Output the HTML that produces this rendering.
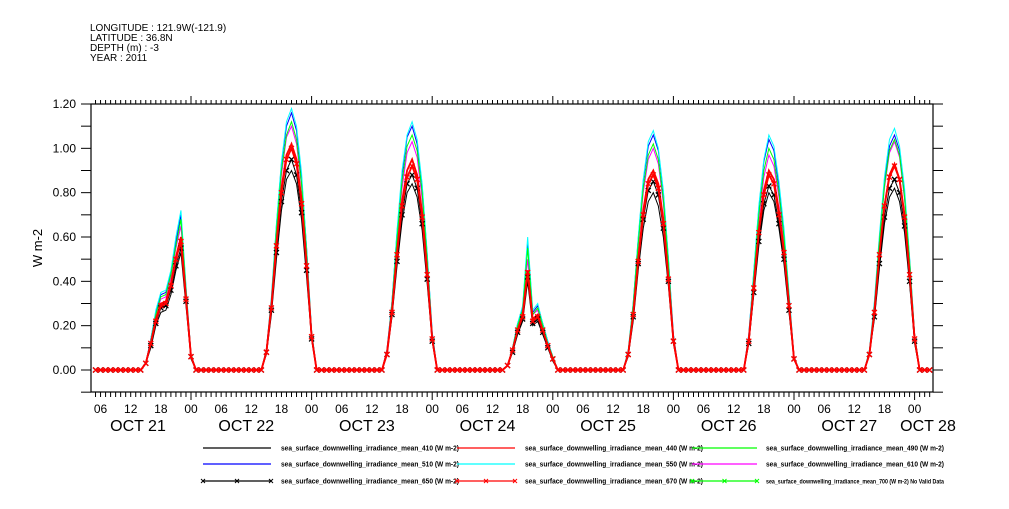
<!DOCTYPE html>
<html><head><meta charset="utf-8"><style>
body{margin:0;background:#fff;width:1009px;height:504px;overflow:hidden}
svg{font-family:"Liberation Sans",sans-serif}
</style></head><body>
<svg id="chart" width="1009" height="504" viewBox="0 0 1009 504" xmlns="http://www.w3.org/2000/svg">
<g font-size="10" fill="#000">
<text x="90" y="31">LONGITUDE : 121.9W(-121.9)</text>
<text x="90" y="41">LATITUDE : 36.8N</text>
<text x="90" y="51">DEPTH (m) : -3</text>
<text x="90" y="61">YEAR : 2011</text>
</g>
<text x="42" y="248" font-size="13" text-anchor="middle" transform="rotate(-90 42 248)">W m-2</text>
<g id="axes"></g>
<g id="plot"></g>
<g id="legend"></g>
</svg>
<script>
// hour-of-day values from 14h to 25h for each day Oct 21..27
const days=["OCT 21","OCT 22","OCT 23","OCT 24","OCT 25","OCT 26","OCT 27","OCT 28"];
const hourLabels=["00","06","12","18"];
const yTicks=[0.0,0.2,0.4,0.6,0.8,1.0,1.2];
const s410=[[0,0.03,0.1,0.2,0.26,0.27,0.34,0.45,0.53,0.29,0.05,0],[0,.07,.25,.5,.72,.86,.9,.84,.68,.42,.14,0],[0,.07,.24,.47,.67,.8,.84,.78,.63,.39,.13,0],[0,0.02,0.08,0.16,0.22,0.4,0.2,0.22,0.16,0.1,0.04,0],[0,.06,.22,.45,.64,.76,.8,.74,.6,.38,.12,0],[0,.12,.34,.56,.72,.8,.76,.64,.48,.26,.05,0],[0,.07,.23,.46,.66,.78,.82,.76,.62,.39,.12,0]];
const s440=[[0,0.03,0.12,0.23,0.3,0.31,0.39,0.51,0.6,0.33,0.06,0],[0,.08,.29,.57,.82,.97,1.02,.95,.77,.48,.15,0],[0,.08,.27,.53,.76,.9,.95,.88,.71,.45,.14,0],[0,0.02,0.09,0.18,0.25,0.45,0.23,0.25,0.18,0.11,0.05,0],[0,.07,.25,.5,.72,.86,.9,.84,.68,.42,.14,0],[0,.14,.38,.63,.81,.9,.86,.72,.54,.3,.05,0],[0,.07,.26,.52,.74,.88,.93,.86,.7,.44,.14,0]];
const s490=[[0,0.03,0.13,0.25,0.33,0.34,0.43,0.56,0.68,0.36,0.07,0],[0,.09,.31,.63,.9,1.06,1.12,1.04,.84,.53,.17,0],[0,.08,.3,.59,.85,1.01,1.06,.99,.8,.5,.16,0],[0,0.02,0.1,0.2,0.27,0.55,0.25,0.28,0.2,0.12,0.06,0],[0,.08,.29,.57,.82,.97,1.02,.95,.77,.48,.15,0],[0,.15,.42,.7,.9,1.0,.95,.8,.6,.33,.06,0],[0,.08,.29,.58,.83,.99,1.04,.97,.78,.49,.16,0]];
const s510=[[0,0.03,0.14,0.26,0.34,0.35,0.44,0.58,0.7,0.37,0.07,0],[0,.09,.32,.65,.93,1.1,1.16,1.08,.87,.55,.17,0],[0,.09,.31,.62,.88,1.05,1.1,1.02,.83,.52,.17,0],[0,0.02,0.1,0.21,0.28,0.58,0.26,0.29,0.21,0.13,0.06,0],[0,.08,.3,.59,.85,1.01,1.06,.99,.8,.5,.16,0],[0,.16,.44,.73,.94,1.04,.99,.83,.62,.34,.06,0],[0,.08,.3,.59,.85,1.01,1.06,.99,.8,.5,.16,0]];
const s550=[[0,0.03,0.14,0.27,0.35,0.36,0.45,0.6,0.72,0.38,0.07,0],[0,.09,.33,.66,.94,1.12,1.18,1.1,.89,.55,.18,0],[0,.09,.31,.63,.9,1.06,1.12,1.04,.84,.53,.17,0],[0,0.02,0.1,0.21,0.29,0.6,0.27,0.3,0.21,0.13,0.06,0],[0,.09,.3,.6,.86,1.03,1.08,1.0,.81,.51,.16,0],[0,.16,.45,.74,.95,1.06,1.01,.85,.64,.35,.06,0],[0,.09,.31,.61,.87,1.04,1.09,1.01,.82,.51,.16,0]];
const s610=[[0,0.03,0.13,0.25,0.32,0.33,0.42,0.55,0.65,0.35,0.06,0],[0,.09,.31,.62,.88,1.05,1.1,1.02,.83,.52,.17,0],[0,.08,.29,.58,.82,.98,1.03,.96,.77,.48,.15,0],[0,0.02,0.1,0.19,0.27,0.5,0.25,0.27,0.19,0.12,0.05,0],[0,.08,.28,.56,.8,.95,1.0,.93,.75,.47,.15,0],[0,.15,.41,.68,.87,.97,.92,.78,.58,.32,.06,0],[0,.08,.29,.58,.82,.98,1.03,.96,.77,.48,.15,0]];
const s650=[[0,0.03,0.11,0.21,0.28,0.29,0.36,0.47,0.55,0.31,0.06,0],[0,.08,.27,.53,.76,.9,.95,.88,.71,.45,.14,0],[0,.07,.25,.49,.7,.84,.88,.82,.66,.41,.13,0],[0,0.02,0.08,0.17,0.23,0.42,0.21,0.23,0.17,0.1,0.05,0],[0,.07,.24,.48,.68,.81,.85,.79,.64,.4,.13,0],[0,.12,.35,.58,.75,.83,.79,.66,.5,.27,.05,0],[0,.07,.24,.48,.69,.82,.86,.8,.65,.4,.13,0]];
const s670=[[0,0.03,0.12,0.22,0.29,0.3,0.38,0.5,0.58,0.32,0.06,0],[0,.08,.28,.56,.8,.95,1.0,.93,.75,.47,.15,0],[0,.07,.26,.52,.74,.87,.92,.86,.69,.43,.14,0],[0,0.02,0.09,0.18,0.24,0.44,0.22,0.24,0.18,0.11,0.05,0],[0,.07,.25,.49,.7,.84,.88,.82,.66,.41,.13,0],[0,.13,.37,.62,.79,.88,.84,.7,.53,.29,.05,0],[0,.07,.26,.52,.74,.87,.92,.86,.69,.43,.14,0]];

const NS="http://www.w3.org/2000/svg";
const X0=70.4, PXH=5.025, LEFT=91, RIGHT=933, TOP=104, BOT=392;
const tMin=(LEFT-X0)/PXH, tMax=(RIGHT-X0)/PXH;
const xs=t=>X0+t*PXH;
const ys=v=>370-v*221.67;
function el(tag,attrs,parent){const e=document.createElementNS(NS,tag);for(const k in attrs)e.setAttribute(k,attrs[k]);parent.appendChild(e);return e;}
const axes=document.getElementById('axes'),plot=document.getElementById('plot'),leg=document.getElementById('legend');

let fr=el('rect',{x:LEFT,y:TOP,width:RIGHT-LEFT,height:BOT-TOP,fill:'none',stroke:'#000','stroke-width':1.2},axes);


for(let i=0;i<=13;i++){const v=-0.1+i*0.1;const y=ys(v);if(y<TOP-0.5||y>BOT+0.5)continue;
 el('line',{x1:LEFT-10,x2:LEFT,y1:y,y2:y,stroke:'#000'},axes);
 el('line',{x1:RIGHT,x2:RIGHT+10,y1:y,y2:y,stroke:'#000'},axes);}
yTicks.forEach(v=>{const t=el('text',{x:76,y:ys(v)+4,'font-size':12,'text-anchor':'end'},axes);t.textContent=v.toFixed(2);
 
 });
for(let h=Math.ceil(tMin);h<=tMax;h++){const x=xs(h);const major=h%24===0;
 el('line',{x1:x,x2:x,y1:TOP,y2:TOP-(major?8:4),stroke:'#000'},axes);
 el('line',{x1:x,x2:x,y1:BOT,y2:BOT+(major?8:5),stroke:'#000'},axes);
 if(h%6===0){const t=el('text',{x:x,y:413,'font-size':12,'text-anchor':'middle'},axes);t.textContent=hourLabels[(h%24)/6];
  
  }}
days.forEach((d,i)=>{let x=xs(12+24*i)-5;if(i===0)x=138;if(i===days.length-1)x=928;
 const t=el('text',{x:x,y:431,'font-size':16,'text-anchor':'middle'},axes);t.textContent=d;
 
 });

const series=[
 {d:s410,c:'#000',n:'410',m:false},{d:s510,c:'#0000ff',n:'510',m:false},{d:s550,c:'#00ffff',n:'550',m:false},
 {d:s610,c:'#ff00ff',n:'610',m:false},{d:s490,c:'#00ff00',n:'490',m:false},{d:s440,c:'#ff0000',n:'440',m:false},
 {d:s650,c:'#000',n:'650',m:true},{d:s670,c:'#ff0000',n:'670',m:true}];
series.forEach(s=>{
 const pts=[];
 for(let h=Math.ceil(tMin);h<=Math.floor(tMax);h++){
  let v=0;const day=Math.floor((h-14)/24);const off=h-14-24*day;
  if(day>=0&&day<s.d.length&&off<s.d[day].length)v=s.d[day][off];
  pts.push([xs(h),ys(v)]);}
 const g=el('g',{},plot);
 
 
 el('polyline',{points:pts.map(p=>p.join(',')).join(' '),fill:'none',stroke:s.c,'stroke-width':s.c==='#ff0000'?1.8:1},g);
 if(s.m){let dd='';pts.forEach(p=>{dd+=`M${p[0]-2.5},${p[1]-2.5}l5,5M${p[0]-2.5},${p[1]+2.5}l5,-5`;});
  el('path',{d:dd,stroke:s.c,'stroke-width':1.3,fill:'none'},g);}
});

const legNames=["410","440","490","510","550","610","650","670","700"];
const legColors=['#000','#ff0000','#00ff00','#0000ff','#00ffff','#ff00ff','#000','#ff0000','#00ff00'];
const colLine=[[203,271],[457,515],[692,757]],colText=[281,525,766],rowY=[448,464,481];
legNames.forEach((n,i)=>{const r=Math.floor(i/3),c=i%3;const y=rowY[r];
 const g=el('g',{},leg);
 
 
 el('line',{x1:colLine[c][0],x2:colLine[c][1],y1:y,y2:y,stroke:legColors[i],'stroke-width':1.2},g);
 if(r===2){[colLine[c][0],(colLine[c][0]+colLine[c][1])/2,colLine[c][1]].forEach(x=>el('path',{d:`M${x-2},${y-2}l4,4M${x-2},${y+2}l4,-4`,stroke:legColors[i]},g));}
 const last=(n==='700');
 const t=el('text',{x:colText[c],y:y+2.5,'font-size':last?6:7,'font-weight':'bold',textLength:178,lengthAdjust:'spacingAndGlyphs'},g);
 t.textContent='sea_surface_downwelling_irradiance_mean_'+n+' (W m-2)'+(last?' No Valid Data':'');
});
</script>
</body></html>
